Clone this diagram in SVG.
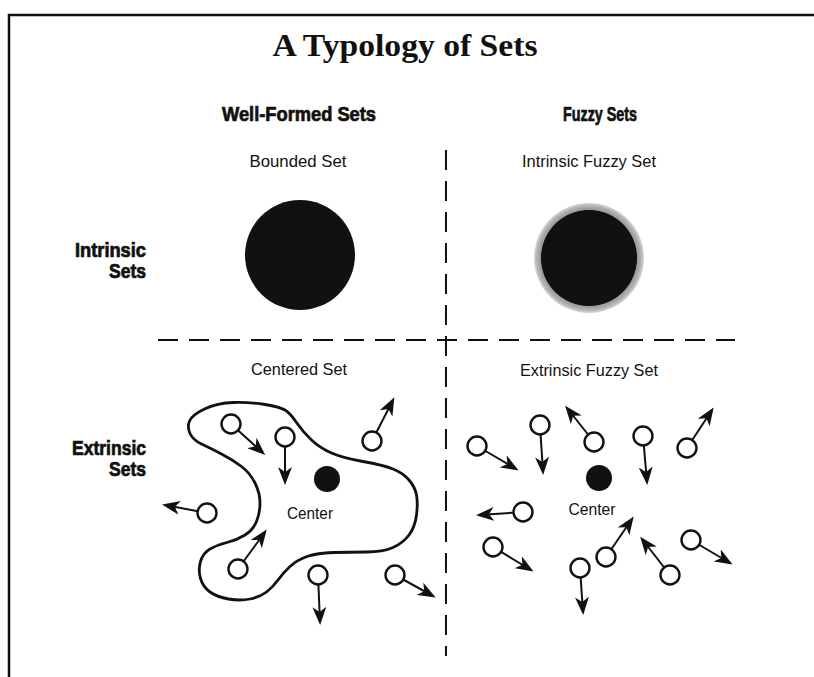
<svg xmlns="http://www.w3.org/2000/svg" width="814" height="677" viewBox="0 0 814 677">
<style>
.frame{stroke:#111;stroke-width:2.5;fill:none}
.dash{stroke:#111;stroke-width:2;stroke-dasharray:20 11;fill:none}
.title{font-family:"Liberation Serif","DejaVu Serif",serif;font-weight:bold;font-size:31px;fill:#111}
.head{font-family:"Liberation Sans Narrow","Liberation Sans",Arial,sans-serif;font-weight:bold;font-size:19.5px;fill:#111;stroke:#111;stroke-width:0.7}
.lab{font-family:"Liberation Sans Narrow","Liberation Sans",Arial,sans-serif;font-size:16.5px;fill:#111}
.blob{stroke:#111;stroke-width:2.8;fill:none}
.pt{stroke:#111;stroke-width:2.4;fill:#fff}
.arr{stroke:#111;stroke-width:2;fill:none;marker-end:url(#ah)}
.dot{fill:#111}
</style>
<defs>
<marker id="ah" viewBox="0 0 18 14" refX="15" refY="7" markerWidth="18" markerHeight="14" markerUnits="userSpaceOnUse" orient="auto">
<path d="M0,0 L18,7 L0,14 L5,7 Z" fill="#111"/>
</marker>
<radialGradient id="fz" cx="0.5" cy="0.5" r="0.5">
<stop offset="0.865" stop-color="#111"/>
<stop offset="0.88" stop-color="#999"/>
<stop offset="0.95" stop-color="#b4b4b4"/>
<stop offset="1" stop-color="#d8d8d8"/>
</radialGradient>
</defs>
<rect width="814" height="677" fill="#fff"/>
<path class="frame" d="M9,677 V15 H814"/>
<text class="title" x="405" y="56" text-anchor="middle" textLength="265" lengthAdjust="spacingAndGlyphs">A Typology of Sets</text>
<text class="head" x="299" y="121" text-anchor="middle" textLength="154" lengthAdjust="spacingAndGlyphs">Well-Formed Sets</text>
<text class="head" x="600" y="121" text-anchor="middle" textLength="74" lengthAdjust="spacingAndGlyphs">Fuzzy Sets</text>
<text class="head" x="146" y="257" text-anchor="end" textLength="71" lengthAdjust="spacingAndGlyphs">Intrinsic</text>
<text class="head" x="146" y="278" text-anchor="end" textLength="37" lengthAdjust="spacingAndGlyphs">Sets</text>
<text class="head" x="146" y="455" text-anchor="end" textLength="74" lengthAdjust="spacingAndGlyphs">Extrinsic</text>
<text class="head" x="146" y="476" text-anchor="end" textLength="37" lengthAdjust="spacingAndGlyphs">Sets</text>
<g id="grid">
<line class="dash" x1="446" y1="150" x2="446" y2="656"/>
<line class="dash" x1="158" y1="340" x2="735" y2="340"/>
</g>
<g id="bounded-set">
<text class="lab" x="298" y="167" text-anchor="middle" textLength="97" lengthAdjust="spacingAndGlyphs">Bounded Set</text>
<circle cx="300" cy="255" r="55" fill="#111"/>
</g>
<g id="intrinsic-fuzzy-set">
<text class="lab" x="589" y="167" text-anchor="middle" textLength="134" lengthAdjust="spacingAndGlyphs">Intrinsic Fuzzy Set</text>
<circle cx="589" cy="258" r="55" fill="url(#fz)"/>
</g>
<g id="centered-set">
<text class="lab" x="299" y="375" text-anchor="middle" textLength="96" lengthAdjust="spacingAndGlyphs">Centered Set</text>
<path class="blob" d="M190,433.5 Q187,427 189.5,421 Q192,415 204.5,409 Q217,403 233.5,402.5 Q250,402 265,404.5 Q280,407 285,410 Q290,413 296.5,422.5 Q303,432 311.5,440 Q320,448 331.5,453 Q343,458 363,461.5 Q383,465 393,469 Q403,473 409,480 Q415,487 416.5,495 Q418,503 416.5,515 Q415,527 409,535 Q403,543 393,547.5 Q383,552 366.5,552 Q350,552 333.5,552.5 Q317,553 307,556.5 Q297,560 290,566.5 Q283,573 278,580 Q273,587 266.5,592 Q260,597 250,599 Q240,601 228.5,599 Q217,597 210,592 Q203,587 200.5,578.5 Q198,570 200.5,561.5 Q203,553 210,549 Q217,545 227,542.5 Q237,540 245,535 Q253,530 256.5,521.5 Q260,513 260,503 Q260,493 255,483 Q250,473 241.5,466.5 Q233,460 221.5,454 Q210,448 201.5,444 Q193,440 190,433.5 Z"/>
<circle class="dot" cx="327" cy="479" r="13"/>
<text class="lab" x="310" y="519" text-anchor="middle" textLength="46" lengthAdjust="spacingAndGlyphs">Center</text>
</g>
<g id="extrinsic-fuzzy-set">
<text class="lab" x="589" y="376" text-anchor="middle" textLength="138" lengthAdjust="spacingAndGlyphs">Extrinsic Fuzzy Set</text>
<circle class="dot" cx="599" cy="478" r="13"/>
<text class="lab" x="592" y="515" text-anchor="middle" textLength="47" lengthAdjust="spacingAndGlyphs">Center</text>
</g>
<g id="connectors">
<line class="arr" x1="231" y1="424" x2="263" y2="453"/>
<line class="arr" x1="285" y1="437" x2="285" y2="482"/>
<line class="arr" x1="372" y1="441" x2="393" y2="400"/>
<line class="arr" x1="207" y1="513" x2="165" y2="505"/>
<line class="arr" x1="238" y1="569" x2="265" y2="532"/>
<line class="arr" x1="318" y1="575" x2="320" y2="622"/>
<line class="arr" x1="395" y1="575" x2="433" y2="596"/>
<line class="arr" x1="477" y1="446" x2="516" y2="469"/>
<line class="arr" x1="540" y1="425" x2="543" y2="472"/>
<line class="arr" x1="594" y1="442" x2="567" y2="408"/>
<line class="arr" x1="643" y1="436" x2="647" y2="482"/>
<line class="arr" x1="687" y1="448" x2="712" y2="410"/>
<line class="arr" x1="523" y1="512" x2="479" y2="515"/>
<line class="arr" x1="493" y1="547" x2="531" y2="570"/>
<line class="arr" x1="580" y1="568" x2="583" y2="612"/>
<line class="arr" x1="606" y1="557" x2="632" y2="519"/>
<line class="arr" x1="670" y1="575" x2="642" y2="539"/>
<line class="arr" x1="691" y1="540" x2="730" y2="563"/>
</g>
<g id="elements-centered">
<circle class="pt" cx="231" cy="424" r="9.5"/>
<circle class="pt" cx="285" cy="437" r="9.5"/>
<circle class="pt" cx="372" cy="441" r="9.5"/>
<circle class="pt" cx="207" cy="513" r="9.5"/>
<circle class="pt" cx="238" cy="569" r="9.5"/>
<circle class="pt" cx="318" cy="575" r="9.5"/>
<circle class="pt" cx="395" cy="575" r="9.5"/>
</g>
<g id="elements-fuzzy">
<circle class="pt" cx="477" cy="446" r="9.5"/>
<circle class="pt" cx="540" cy="425" r="9.5"/>
<circle class="pt" cx="594" cy="442" r="9.5"/>
<circle class="pt" cx="643" cy="436" r="9.5"/>
<circle class="pt" cx="687" cy="448" r="9.5"/>
<circle class="pt" cx="523" cy="512" r="9.5"/>
<circle class="pt" cx="493" cy="547" r="9.5"/>
<circle class="pt" cx="580" cy="568" r="9.5"/>
<circle class="pt" cx="606" cy="557" r="9.5"/>
<circle class="pt" cx="670" cy="575" r="9.5"/>
<circle class="pt" cx="691" cy="540" r="9.5"/>
</g>
</svg>
